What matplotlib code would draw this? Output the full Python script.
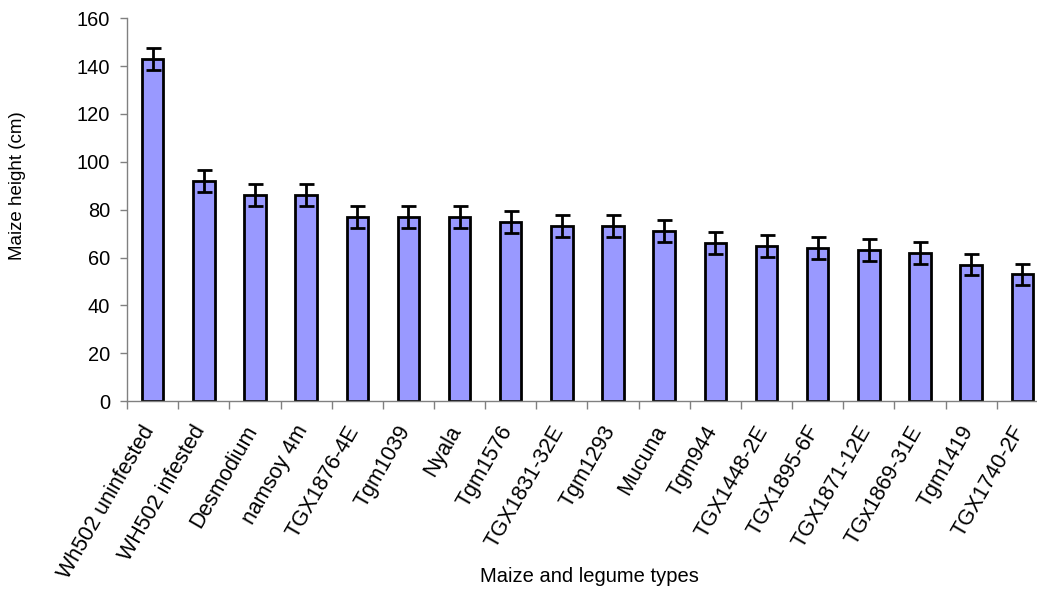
import matplotlib.pyplot as plt
import numpy as np

plt.rcParams['font.family'] = ['Liberation Sans', 'DejaVu Sans']

types = ['Wh502 uninfested', 'WH502 infested', 'Desmodium', 'namsoy 4m',
         'TGX1876-4E', 'Tgm1039', 'Nyala', 'Tgm1576', 'TGX1831-32E', 'Tgm1293',
         'Mucuna', 'Tgm944', 'TGX1448-2E', 'TGX1895-6F', 'TGX1871-12E',
         'TGx1869-31E', 'Tgm1419', 'TGX1740-2F']
height = [143, 92, 86, 86, 77, 77, 77, 75, 73, 73, 71, 66, 65, 64, 63, 62, 57, 53]
err = [4.7, 4.6, 4.6, 4.6, 4.7, 4.7, 4.7, 4.6, 4.6, 4.6, 4.7, 4.6, 4.6, 4.6, 4.6, 4.6, 4.5, 4.5]

fig = plt.figure(figsize=(10.37, 5.89), dpi=100)
ax = fig.add_axes([0.1225, 0.319, 0.888, 0.65])

x = np.arange(len(types))
ax.bar(x, height, width=0.42, color='#9999ff', edgecolor='black', linewidth=2,
       zorder=2)
ax.errorbar(x, height, yerr=err, fmt='none', ecolor='black', elinewidth=2,
            capsize=5.4, capthick=2, zorder=3)

ax.set_xlim(-0.5, len(types) - 0.5)
ax.set_ylim(0, 160)
ax.set_yticks(np.arange(0, 161, 20))

# label anchors sit a little left of the bar centres so the slanted
# text ends right under each bar (major ticks themselves are hidden)
ax.set_xticks(x - 0.23)
ax.set_xticklabels(types, rotation=60, ha='right', va='top',
                   rotation_mode='anchor', fontsize=15.5)
ax.set_xticks(np.arange(-0.5, len(types), 1), minor=True)
ax.tick_params(axis='x', which='major', length=0, pad=15)
ax.tick_params(axis='x', which='minor', length=6, width=1, color='#808080')
ax.tick_params(axis='y', length=5, width=1, color='#808080', labelsize=14.4,
               pad=7)

for side in ['top', 'right']:
    ax.spines[side].set_visible(False)
for side in ['left', 'bottom']:
    ax.spines[side].set_color('#808080')
    ax.spines[side].set_linewidth(1)

fig.text(18 / 1037, 1 - 186 / 589, 'Maize height (cm)', fontsize=13.5,
         rotation=90, ha='center', va='center')
fig.text(589 / 1037, 1 - 577 / 589, 'Maize and legume types', fontsize=14.5,
         ha='center', va='center')

fig.savefig('out.png', dpi=100)
